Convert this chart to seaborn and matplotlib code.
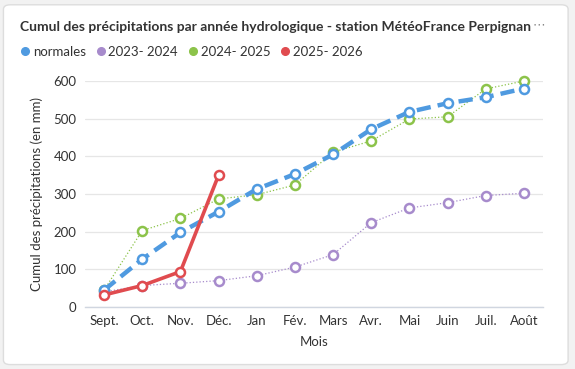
import matplotlib
matplotlib.use("Agg")
import matplotlib.pyplot as plt
import seaborn as sns
import pandas as pd
from matplotlib.patches import FancyBboxPatch
from matplotlib.lines import Line2D

months = ["Sept.", "Oct.", "Nov.", "Déc.", "Jan", "Fév.", "Mars", "Avr.", "Mai", "Juin", "Juil.", "Août"]
normales = [45, 127, 198, 253, 313, 353, 405, 472, 518, 541, 557, 580]
y2023_2024 = [40, 57, 63, 70, 83, 106, 139, 224, 263, 277, 296, 302]
y2024_2025 = [45, 203, 235, 287, 298, 324, 411, 441, 499, 505, 579, 600]
y2025_2026 = [32, 57, 94, 350]
yticks = [0, 100, 200, 300, 400, 500, 600]

series_names = ["normales", "2023- 2024", "2024- 2025", "2025- 2026"]
series_vals = [normales, y2023_2024, y2024_2025, y2025_2026]
colors = ["#4f9ae0", "#a78bcc", "#8cc34a", "#e04b4f"]
styles = [dict(lw=3.2, ls=(0, (3.2, 1.6)), ms=6.5, mew=1.8, z=4),
          dict(lw=0.9, ls=":", ms=6.5, mew=1.8, z=2),
          dict(lw=0.9, ls=":", ms=6.5, mew=1.8, z=3),
          dict(lw=2.6, ls="-", ms=6.5, mew=1.8, z=5)]

sns.set_theme(style="white")
plt.rcParams["font.family"] = ["Lato", "DejaVu Sans"]

fig = plt.figure(figsize=(5.75, 3.69), dpi=100)
fig.patch.set_facecolor("#f2f2f2")
card = FancyBboxPatch((0.006, 0.012), 0.982, 0.975, boxstyle="round,pad=0,rounding_size=0.012",
                      transform=fig.transFigure, facecolor="white", edgecolor="#dddddd", lw=1, zorder=-10)
fig.patches.append(card)

ax = fig.add_axes([85/575, 62/369, 458/575, 226/369])
ax.set_zorder(1)
ax.set_facecolor("white")

rows = []
for name, vals in zip(series_names, series_vals):
    for i, v in enumerate(vals):
        rows.append(dict(serie=name, idx=i, val=v))
df = pd.DataFrame(rows)

for name, col, st in zip(series_names, colors, styles):
    sub = df[df.serie == name]
    sns.lineplot(data=sub, x="idx", y="val", ax=ax, color=col, lw=st["lw"], linestyle=st["ls"],
                 marker="o", markersize=st["ms"], markerfacecolor="white", markeredgecolor=col,
                 markeredgewidth=st["mew"], zorder=st["z"], clip_on=False, legend=False)

ax.set_xlim(-0.5, 11.5)
ax.set_ylim(0, 600)
ax.set_yticks(yticks)
ax.set_yticklabels([str(t) for t in yticks], fontsize=9.5, color="#333333")
ax.set_xticks(range(len(months)))
ax.set_xticklabels(months, fontsize=9.5, color="#333333")
ax.tick_params(axis="both", length=0, pad=6)
ax.grid(axis="y", color="#e6e6e6", lw=0.9)
ax.set_axisbelow(True)
for s in ["top", "right", "left"]:
    ax.spines[s].set_visible(False)
ax.spines["bottom"].set_color("#d0d6e0")
ax.spines["bottom"].set_linewidth(1)
ax.set_xlabel("Mois", fontsize=9.5, color="#333333", labelpad=6)
ax.set_ylabel("Cumul des précipitations (en mm)", fontsize=9.5, color="#333333", labelpad=8)

fig.text(20/575, 1 - 27/369, "Cumul des précipitations par année hydrologique - station MétéoFrance Perpignan",
         fontsize=10.0, fontweight="bold", color="#333333", va="center", ha="left")
fig.text(533/575, 1 - 25/369, "⋯", fontsize=9, color="#888888", va="center", ha="left",
         family=["DejaVu Sans"])

handles = [Line2D([], [], marker="o", ls="none", color=c, markersize=5.5) for c in colors]
fig.legend(handles, series_names, loc="center left", bbox_to_anchor=(18/575, 1 - 52/369),
           ncol=4, frameon=False, fontsize=9.5, handletextpad=0.07, columnspacing=0.6,
           handlelength=1.05, borderpad=0, borderaxespad=0, labelcolor="#333333")

fig.savefig("out.png", dpi=100, facecolor=fig.get_facecolor())
